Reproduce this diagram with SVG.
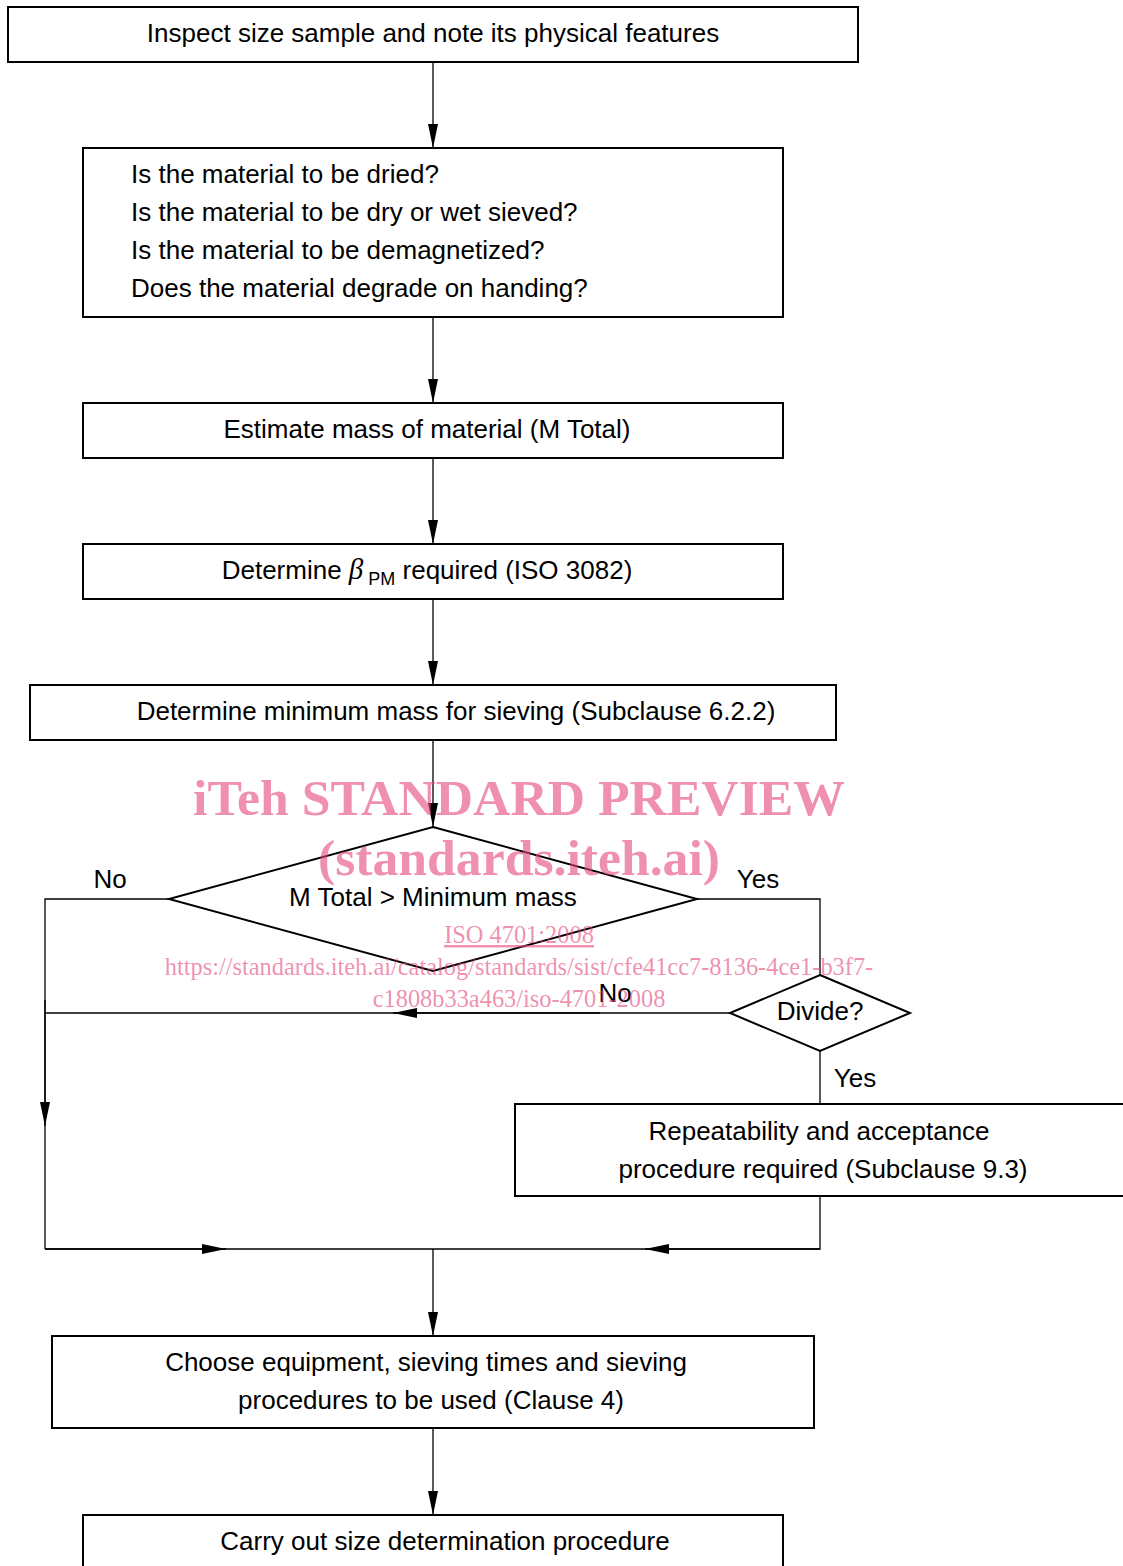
<svg xmlns="http://www.w3.org/2000/svg" width="1123" height="1566" viewBox="0 0 1123 1566">
<style>
.box{fill:#fff;stroke:#000;stroke-width:2}
.t{font-family:"Liberation Sans",Arial,sans-serif;font-size:26px;fill:#000}
.c{text-anchor:middle}
.ln{fill:none;stroke:#000;stroke-width:1.3}
.wm{font-family:"Liberation Serif","Times New Roman",serif;fill:#E4467A;fill-opacity:0.6;text-anchor:middle}
</style>
<defs>
<marker id="ahe" markerWidth="24" markerHeight="10" refX="24" refY="5" orient="auto" markerUnits="userSpaceOnUse" viewBox="0 0 24 10">
<path d="M0,0 L24,5 L0,10 Z" fill="#000"/>
</marker>
</defs>
<rect width="1123" height="1566" fill="#fff"/>
<g id="connectors">
<line class="ln" x1="433" y1="62" x2="433" y2="148" marker-end="url(#ahe)"/>
<line class="ln" x1="433" y1="317" x2="433" y2="403" marker-end="url(#ahe)"/>
<line class="ln" x1="433" y1="458" x2="433" y2="544" marker-end="url(#ahe)"/>
<line class="ln" x1="433" y1="599" x2="433" y2="685" marker-end="url(#ahe)"/>
<line class="ln" x1="433" y1="740" x2="433" y2="827" marker-end="url(#ahe)"/>
<polyline class="ln" points="169,899 45,899 45,1249"/>
<line class="ln" x1="45" y1="1000" x2="45" y2="1126" marker-end="url(#ahe)"/>
<polyline class="ln" points="697,899 820,899 820,975"/>
<line class="ln" x1="730" y1="1013" x2="45" y2="1013"/>
<line class="ln" x1="600" y1="1013" x2="393" y2="1013" marker-end="url(#ahe)"/>
<line class="ln" x1="820" y1="1051" x2="820" y2="1104"/>
<polyline class="ln" points="820,1196 820,1249 45,1249"/>
<line class="ln" x1="45" y1="1249" x2="226" y2="1249" marker-end="url(#ahe)"/>
<line class="ln" x1="820" y1="1249" x2="645" y2="1249" marker-end="url(#ahe)"/>
<line class="ln" x1="433" y1="1249" x2="433" y2="1336" marker-end="url(#ahe)"/>
<line class="ln" x1="433" y1="1428" x2="433" y2="1515" marker-end="url(#ahe)"/>
</g>
<g id="n1"><rect class="box" x="8" y="7" width="850" height="55"/><text class="t c" x="433" y="42">Inspect size sample and note its physical features</text></g>
<g id="n2"><rect class="box" x="83" y="148" width="700" height="169"/>
<text class="t" x="131" y="183">Is the material to be dried?</text>
<text class="t" x="131" y="221">Is the material to be dry or wet sieved?</text>
<text class="t" x="131" y="259">Is the material to be demagnetized?</text>
<text class="t" x="131" y="297">Does the material degrade on handing?</text></g>
<g id="n3"><rect class="box" x="83" y="403" width="700" height="55"/><text class="t c" x="427" y="438">Estimate mass of material (M Total)</text></g>
<g id="n4"><rect class="box" x="83" y="544" width="700" height="55"/><text class="t c" x="427" y="579">Determine <tspan font-family="'Liberation Serif',serif" font-style="italic" font-size="29">β</tspan><tspan font-size="18" dy="6"> PM</tspan><tspan dy="-6"> required (ISO 3082)</tspan></text></g>
<g id="n5"><rect class="box" x="30" y="685" width="806" height="55"/><text class="t c" x="456" y="720">Determine minimum mass for sieving (Subclause 6.2.2)</text></g>
<g id="d1"><polygon class="box" points="433,827 697,899 433,971 169,899"/><text class="t c" x="433" y="906">M Total &gt; Minimum mass</text></g>
<g id="d2"><polygon class="box" points="820,975 910,1013 820,1051 730,1013"/><text class="t c" x="820" y="1020">Divide?</text></g>
<g id="n6"><rect class="box" x="515" y="1104" width="620" height="92"/>
<text class="t c" x="819" y="1140">Repeatability and acceptance</text>
<text class="t c" x="823" y="1178">procedure required (Subclause 9.3)</text></g>
<g id="n7"><rect class="box" x="52" y="1336" width="762" height="92"/>
<text class="t c" x="426" y="1371">Choose equipment, sieving times and sieving</text>
<text class="t c" x="431" y="1409">procedures to be used (Clause 4)</text></g>
<g id="n8"><rect class="box" x="83" y="1515" width="700" height="60"/><text class="t c" x="445" y="1550">Carry out size determination procedure</text></g>
<g id="labels">
<text class="t c" x="110" y="888">No</text>
<text class="t c" x="758" y="888">Yes</text>
<text class="t c" x="615" y="1002">No</text>
<text class="t c" x="855" y="1087">Yes</text>
</g>
<g id="watermark">
<text class="wm" x="519" y="815" font-size="51.7" font-weight="bold">iTeh STANDARD PREVIEW</text>
<text class="wm" x="519" y="875" font-size="51.7" font-weight="bold">(standards.iteh.ai)</text>
<text class="wm" x="519" y="943" font-size="24.4" text-decoration="underline">ISO 4701:2008</text>
<text class="wm" x="519" y="975" font-size="24.4">https://standards.iteh.ai/catalog/standards/sist/cfe41cc7-8136-4ce1-b3f7-</text>
<text class="wm" x="519" y="1007" font-size="24.4">c1808b33a463/iso-4701-2008</text>
</g>
</svg>
